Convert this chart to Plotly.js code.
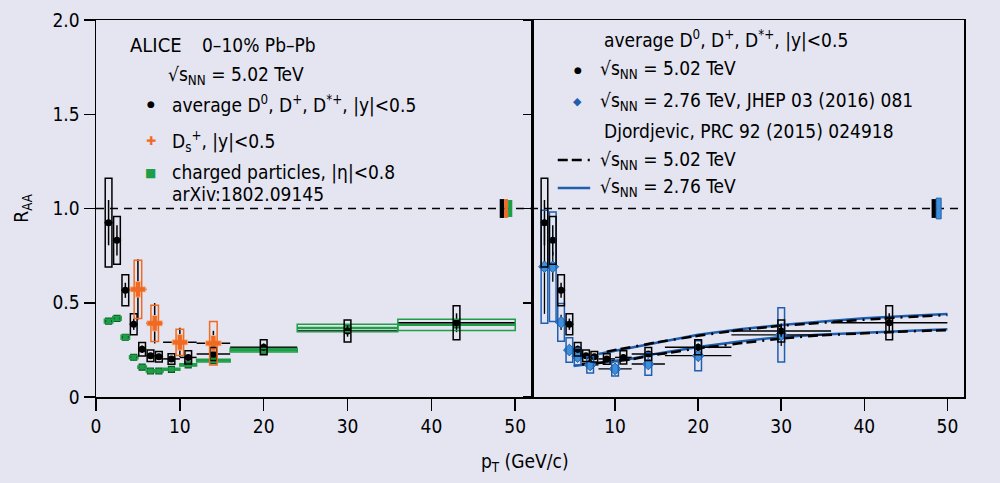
<!DOCTYPE html>
<html>
<head>
<meta charset="utf-8">
<script src="https://cdn.plot.ly/plotly-3.0.1.min.js"></script>
<style>
html,body{margin:0;padding:0;background:#e4e5f1;}
#chart{width:1000px;height:483px;}
</style>
</head>
<body>
<div id="chart"></div>
<script>
// ---------- Data ----------
// average D0, D+, D*+ at 5.02 TeV (0-10%)
const dPt   = [1.5, 2.5, 3.5, 4.5, 5.5, 6.5, 7.5, 9, 11, 14, 20, 30, 43];
const dHalf = [0.5, 0.5, 0.5, 0.5, 0.5, 0.5, 0.5, 1, 1, 2, 4, 6, 7];
const dR    = [0.925, 0.831, 0.566, 0.386, 0.253, 0.219, 0.214, 0.202, 0.210, 0.228, 0.264, 0.350, 0.394];
const dStat = [0.12, 0.08, 0.04, 0.03, 0.02, 0.015, 0.015, 0.012, 0.015, 0.015, 0.02, 0.03, 0.05];
const dSys  = [0.235, 0.127, 0.082, 0.056, 0.036, 0.031, 0.028, 0.028, 0.035, 0.035, 0.04, 0.058, 0.09];

// Ds+ at 5.02 TeV
const dsPt   = [5, 7, 10, 14];
const dsHalf = [1, 1, 2, 2];
const dsR    = [0.571, 0.391, 0.290, 0.285];
const dsStat = [0.16, 0.107, 0.078, 0.066];
const dsSys  = [0.155, 0.096, 0.07, 0.115];

// charged particles |eta|<0.8 (arXiv:1802.09145)
const chPt   = [1.5, 2.5, 3.5, 4.5, 5.5, 6.5, 7.5, 9, 11, 14, 20, 30, 43];
const chHalf = [0.5, 0.5, 0.5, 0.5, 0.5, 0.5, 0.5, 1, 1, 2, 4, 6, 7];
const chR    = [0.403, 0.417, 0.317, 0.211, 0.158, 0.138, 0.138, 0.147, 0.170, 0.193, 0.248, 0.366, 0.383];
const chSys  = [0.01, 0.01, 0.01, 0.008, 0.006, 0.005, 0.005, 0.005, 0.006, 0.007, 0.009, 0.02, 0.03];

// average D at 2.76 TeV (JHEP 03 (2016) 081)
const lPt   = [1.5, 2.5, 3.5, 4.5, 5.5, 7, 10, 14, 20, 30];
const lHalf = [0.5, 0.5, 0.5, 0.5, 0.5, 1, 2, 2, 4, 6];
const lR    = [0.691, 0.691, 0.396, 0.249, 0.214, 0.170, 0.149, 0.175, 0.219, 0.330];
const lStat = [0.25, 0.08, 0.04, 0.025, 0.02, 0.015, 0.015, 0.02, 0.03, 0.06];
const lSys  = [0.30, 0.29, 0.10, 0.065, 0.044, 0.043, 0.038, 0.06, 0.08, 0.144];

// Djordjevic model bands
const m502UpPt = [9, 10, 12, 15, 20, 25, 30, 35, 40, 45, 50];
const m502UpR  = [0.240, 0.250, 0.265, 0.290, 0.325, 0.355, 0.378, 0.395, 0.410, 0.424, 0.435];
const m502LoPt = [6, 8, 10, 12, 15, 20, 25, 30, 35, 40, 45, 50];
const m502LoR  = [0.175, 0.180, 0.190, 0.200, 0.225, 0.258, 0.285, 0.310, 0.328, 0.340, 0.348, 0.355];
const m276UpPt = [8, 10, 12, 15, 20, 25, 30, 35, 40, 45, 50];
const m276UpR  = [0.228, 0.245, 0.262, 0.290, 0.330, 0.360, 0.382, 0.400, 0.418, 0.430, 0.440];
const m276LoPt = [5, 6, 8, 10, 12, 15, 20, 25, 30, 35, 40, 45, 50];
const m276LoR  = [0.165, 0.170, 0.180, 0.190, 0.203, 0.230, 0.265, 0.295, 0.318, 0.332, 0.342, 0.350, 0.360];

// normalisation uncertainties (drawn at R=1)
const normLeft  = [0.05, 0.05, 0.045];   // D, Ds, charged
const normRight = [0.05, 0.055];         // D 5.02, D 2.76

// ---------- Style ----------
const BLACK = '#000000', ORANGE = '#ef6a22', GREEN = '#1f9e48', DKGREEN = '#0d5a25',
      BLUE = '#1f5fb0', LBLUE = '#3d8fd8';
const FONT = 'Liberation Sans Narrow, Arial Narrow, DejaVu Sans Condensed, sans-serif';

const shapes = [];
function boxes(xs, ys, sys, half, xref, yref, color, width, fill){
  for (let i = 0; i < xs.length; i++){
    const hw = Array.isArray(half) ? half[i] : half;
    shapes.push({type:'rect', xref:xref, yref:yref,
      x0: xs[i]-hw, x1: xs[i]+hw, y0: ys[i]-sys[i], y1: ys[i]+sys[i],
      line:{color:color, width:width}, fillcolor: fill || 'rgba(0,0,0,0)', layer:'above'});
  }
}
// left panel boxes
boxes(chPt, chR, chSys, chHalf, 'x', 'y', GREEN, 1.5);
boxes(dPt, dR, dSys, 0.4, 'x', 'y', BLACK, 1.5);
boxes(dsPt, dsR, dsSys, 0.45, 'x', 'y', ORANGE, 1.5);
// right panel boxes
boxes(lPt, lR, lSys, 0.4, 'x2', 'y2', BLUE, 1.5);
boxes(dPt, dR, dSys, 0.4, 'x2', 'y2', BLACK, 1.5);

// normalisation boxes
const nlColors = [BLACK, ORANGE, GREEN];
const nlX = [48.15, 48.7, 49.15, 49.65];
normLeft.forEach((u, i) => shapes.push({type:'rect', xref:'x', yref:'y',
  x0:nlX[i], x1:nlX[i+1], y0:1-u, y1:1+u, line:{width:0}, fillcolor:nlColors[i], layer:'above'}));
const nrColors = [BLACK, LBLUE];
const nrX = [48.1, 48.65, 49.25];
normRight.forEach((u, i) => shapes.push({type:'rect', xref:'x2', yref:'y2',
  x0:nrX[i], x1:nrX[i+1], y0:1-u, y1:1+u, line:{width: i===1?1:0, color:BLUE}, fillcolor:nrColors[i], layer:'above'}));

// R=1 dashed reference line
shapes.push({type:'line', xref:'paper', yref:'y', x0:0, x1:1, y0:1, y1:1,
  line:{color:BLACK, width:1.5, dash:'8px,6px'}, layer:'below'});

// legend line samples (right panel)
shapes.push({type:'line', xref:'x2', yref:'y2', x0:3.1, x1:7.0, y0:1.257, y1:1.257,
  line:{color:BLACK, width:2.5, dash:'10px,4px,10px,6px,2px,6px'}});
shapes.push({type:'line', xref:'x2', yref:'y2', x0:3.1, x1:7.0, y0:1.109, y1:1.109,
  line:{color:BLUE, width:2.5}});

// ---------- Traces ----------
const traces = [];
// charged particles
traces.push({x:chPt, y:chR, xaxis:'x', yaxis:'y', type:'scatter', mode:'markers',
  marker:{symbol:'square', size:6, color:GREEN, line:{color:DKGREEN, width:1.2}},
  error_x:{type:'data', array:chHalf, color:GREEN, thickness:2.5, width:0},
  showlegend:false});
// D 5.02 left
traces.push({x:dPt, y:dR, xaxis:'x', yaxis:'y', type:'scatter', mode:'markers',
  marker:{symbol:'circle', size:7, color:BLACK},
  error_x:{type:'data', array:dHalf, color:BLACK, thickness:1.5, width:0},
  error_y:{type:'data', array:dStat, color:BLACK, thickness:1.5, width:0},
  showlegend:false});
// Ds
traces.push({x:dsPt, y:dsR, xaxis:'x', yaxis:'y', type:'scatter', mode:'markers',
  marker:{symbol:'cross', size:13, color:ORANGE, line:{color:'#fbc39f', width:0.8}},
  error_x:{type:'data', array:dsHalf, color:BLACK, thickness:1.5, width:0},
  error_y:{type:'data', array:dsStat, color:BLACK, thickness:1.5, width:0},
  showlegend:false});

// model curves (right panel)
const dashDot = '10px,4px,10px,6px,2px,6px';
traces.push({x:m276UpPt, y:m276UpR, xaxis:'x2', yaxis:'y2', type:'scatter', mode:'lines',
  line:{color:BLUE, width:2.5}, showlegend:false});
traces.push({x:m276LoPt, y:m276LoR, xaxis:'x2', yaxis:'y2', type:'scatter', mode:'lines',
  line:{color:BLUE, width:2.5}, showlegend:false});
traces.push({x:m502UpPt, y:m502UpR, xaxis:'x2', yaxis:'y2', type:'scatter', mode:'lines',
  line:{color:BLACK, width:2.5, dash:dashDot}, showlegend:false});
traces.push({x:m502LoPt, y:m502LoR, xaxis:'x2', yaxis:'y2', type:'scatter', mode:'lines',
  line:{color:BLACK, width:2.5, dash:dashDot}, showlegend:false});

// D 2.76
traces.push({x:lPt, y:lR, xaxis:'x2', yaxis:'y2', type:'scatter', mode:'markers',
  marker:{symbol:'diamond', size:9, color:LBLUE, line:{color:BLUE, width:1}},
  error_x:{type:'data', array:lHalf, color:BLACK, thickness:1.3, width:0},
  error_y:{type:'data', array:lStat, color:BLACK, thickness:1.3, width:0},
  showlegend:false});
// D 5.02 right
traces.push({x:dPt, y:dR, xaxis:'x2', yaxis:'y2', type:'scatter', mode:'markers',
  marker:{symbol:'circle', size:7, color:BLACK},
  error_x:{type:'data', array:dHalf, color:BLACK, thickness:1.5, width:0},
  error_y:{type:'data', array:dStat, color:BLACK, thickness:1.5, width:0},
  showlegend:false});

// ---------- Annotations ----------
const SQ = '√s<sub>NN</sub>';
function txt(x, y, text, xref, yref, opts){
  return Object.assign({x:x, y:y, xref:xref, yref:yref, text:text, showarrow:false,
    xanchor:'left', yanchor:'middle', font:{family:FONT, size:19, color:BLACK}}, opts||{});
}
const ann = [
  txt(3.8, 1.867, 'ALICE', 'x', 'y', {font:{family:FONT, size:20, color:BLACK}}),
  txt(12.4, 1.867, '0–10% Pb–Pb', 'x', 'y'),
  txt(8.35, 1.708, SQ + ' = 5.02 TeV', 'x', 'y'),
  txt(6.5, 1.554, '●', 'x', 'y', {xanchor:'center', font:{family:'DejaVu Sans', size:9, color:BLACK}}),
  txt(8.83, 1.554, 'average D<sup>0</sup>, D<sup>+</sup>, D<sup>*+</sup>, |y|<0.5', 'x', 'y'),
  txt(6.5, 1.358, '✚', 'x', 'y', {xanchor:'center', font:{family:'DejaVu Sans', size:12, color:ORANGE}}),
  txt(8.83, 1.358, 'D<sub>s</sub><sup>+</sup>, |y|<0.5', 'x', 'y'),
  txt(6.5, 1.190, '■', 'x', 'y', {xanchor:'center', font:{family:'DejaVu Sans', size:12, color:GREEN}}),
  txt(8.83, 1.190, 'charged particles, |η|<0.8', 'x', 'y'),
  txt(8.83, 1.078, 'arXiv:1802.09145', 'x', 'y'),

  txt(8.4, 1.894, 'average D<sup>0</sup>, D<sup>+</sup>, D<sup>*+</sup>, |y|<0.5', 'x2', 'y2'),
  txt(5.5, 1.735, '●', 'x2', 'y2', {xanchor:'center', font:{family:'DejaVu Sans', size:9, color:BLACK}}),
  txt(7.9, 1.735, SQ + ' = 5.02 TeV', 'x2', 'y2'),
  txt(5.5, 1.570, '◆', 'x2', 'y2', {xanchor:'center', font:{family:'DejaVu Sans', size:11, color:BLUE}}),
  txt(7.9, 1.570, SQ + ' = 2.76 TeV, JHEP 03 (2016) 081', 'x2', 'y2'),
  txt(8.4, 1.411, 'Djordjevic, PRC 92 (2015) 024918', 'x2', 'y2'),
  txt(7.9, 1.257, SQ + ' = 5.02 TeV', 'x2', 'y2'),
  txt(7.9, 1.109, SQ + ' = 2.76 TeV', 'x2', 'y2'),

  {x:0.494, y:-0.175, xref:'paper', yref:'paper', text:'p<sub>T</sub> (GeV/c)', showarrow:false,
    xanchor:'center', yanchor:'middle', font:{family:FONT, size:19, color:BLACK}},
  {x:-0.085, y:0.5, xref:'paper', yref:'paper', text:'R<sub>AA</sub>', showarrow:false, textangle:-90,
    xanchor:'center', yanchor:'middle', font:{family:FONT, size:19, color:BLACK}}
];

// ---------- Layout ----------
const axisCommon = {showgrid:false, zeroline:false, showline:true, linecolor:BLACK, linewidth:1.5,
  mirror:true, ticks:'outside', tickcolor:BLACK, tickwidth:1.5, ticklen:12,
  tickfont:{family:FONT, size:19, color:BLACK}, range:[0, 52], fixedrange:true};
const split = 436/868;
const layout = {
  width:1000, height:483,
  margin:{l:96, r:36, t:20, b:86},
  paper_bgcolor:'#e4e5f1', plot_bgcolor:'#e4e5f1',
  font:{family:FONT, size:19, color:BLACK},
  xaxis: Object.assign({}, axisCommon, {domain:[0, split], anchor:'y',
    tickmode:'array', tickvals:[0,10,20,30,40,50], ticktext:['0','10','20','30','40','50']}),
  xaxis2: Object.assign({}, axisCommon, {domain:[split, 1], anchor:'y2',
    tickmode:'array', tickvals:[10,20,30,40,50], ticktext:['10','20','30','40','50']}),
  yaxis: Object.assign({}, axisCommon, {domain:[0,1], anchor:'x', range:[0,2],
    tickmode:'array', tickvals:[0,0.5,1,1.5,2], ticktext:['0','0.5','1.0','1.5','2.0'], ticklen:11}),
  yaxis2: Object.assign({}, axisCommon, {domain:[0,1], anchor:'x2', range:[0,2],
    tickmode:'array', tickvals:[0,0.5,1,1.5,2], showticklabels:false, ticklen:8}),
  shapes: shapes,
  annotations: ann,
  showlegend:false
};

Plotly.newPlot('chart', traces, layout, {displayModeBar:false, staticPlot:true});
</script>
</body>
</html>
